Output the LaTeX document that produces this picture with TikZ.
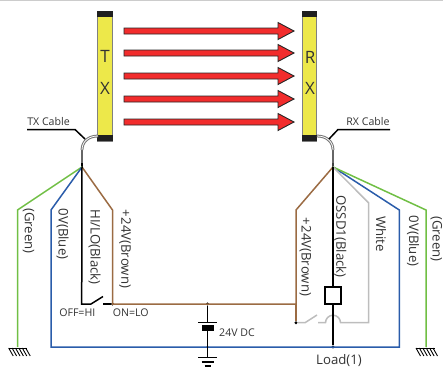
\documentclass[tikz,border=0pt]{standalone}
\usepackage{fontspec}
\setmainfont{Open Sans}
\usepackage{xcolor}

\definecolor{curtain}{HTML}{EDE84A}
\definecolor{beamred}{HTML}{F22C2C}
\definecolor{wgreen}{HTML}{70BF44}
\definecolor{wblue}{HTML}{2A5CAA}
\definecolor{wbrown}{HTML}{9B6B43}
\definecolor{wwhite}{HTML}{BDBDBD}
\definecolor{txt}{HTML}{333333}

\begin{document}
\begin{tikzpicture}[x=1pt, y=-1pt,
    bar/.style={draw=black!50, fill=curtain, line width=1pt, minimum width=14.5pt, minimum height=130pt, inner sep=0pt},
    endcap/.style={fill=black!88, minimum width=15.5pt, minimum height=6pt, inner sep=0pt},
    beam/.style={draw=black!85, fill=beamred, line width=0.9pt, line join=miter},
    letter/.style={font=\fontsize{17}{17}\selectfont, text=txt, inner sep=0pt},
    small/.style={font=\fontsize{10.6}{11}\selectfont, text=txt, inner sep=0pt},
    wirelabel/.style={font=\fontsize{13.2}{14}\selectfont, text=txt, rotate=-90, inner sep=0pt},
    wire/.style={line width=1.5pt, line join=miter},
    cable/.style={draw=black!55, double=white, line width=1pt, double distance=0.8pt},
    dot/.style={circle, fill=black, minimum size=3.4pt, inner sep=0pt},
    coil/.style={draw=black, fill=white, line width=1.5pt, minimum width=16pt, minimum height=17pt, inner sep=0pt}]

    \useasboundingbox (0,0) rectangle (443,367);
    \draw[black!20, line width=1pt] (0,0.5) -- (443,0.5);

    % Draw curtains
    \node (tx) [bar] at (105,76) {};
    \node (rx) [bar] at (309.5,76) {};
    \node (txtop) [endcap] at (105,14) {};
    \node (txbot) [endcap] at (105,138) {};
    \node (rxtop) [endcap] at (309.5,14) {};
    \node (rxbot) [endcap] at (309.5,138) {};
    \node (t) [letter] at (105,56) {T};
    \node (x1) [letter] at (105,88) {X};
    \node (r) [letter] at (310,57) {R};
    \node (x2) [letter] at (310,88) {X};

    % Draw beams
    \foreach \y in {31,53,76,99,122}
        \draw[beam] (124,\y-3) -- (278,\y-3) -- (278,\y-8.5) -- (294,\y) -- (278,\y+8.5) -- (278,\y+3) -- (124,\y+3) -- cycle;

    % Points of the wiring
    \coordinate (txend) at (82,167);
    \coordinate (rxend) at (333,167);
    \coordinate (swleft) at (91,304);
    \coordinate (swblade) at (103,296.5);
    \coordinate (swright) at (103,304);
    \node (swdot) [dot] at (112.5,304) {};
    \node (batdot) [dot] at (207.5,304) {};
    \node (batlow) [dot, minimum size=2.5pt] at (207.5,347) {};
    \node (reldot) [dot] at (296,322.7) {};
    \node (loaddot) [dot] at (333,347) {};
    \node (relay) [coil] at (333,295.3) {};
    \coordinate (gndl) at (17.5,347);
    \coordinate (gndr) at (426,347);

    % Draw cables
    \draw[black!60, line width=2.8pt] (txend) -- (82,150);
    \draw[cable] (82,150) .. controls (82,142) and (88,136) .. (98,136);
    \draw[black!60, line width=2.8pt] (rxend) -- (333,150);
    \draw[cable] (333,150) .. controls (333,142) and (327,136) .. (317,136);
    \draw[black, line width=2.8pt] (82,163) -- (txend);
    \draw[black!75, line width=2.8pt] (333,163) -- (rxend);
    \draw[wire] (27,129.5) -- (75,129.5) -- (85,139);
    \draw[wire] (390,129.5) -- (338,129.5) -- (329,139);

    % Draw TX wires
    \draw[wire, wgreen] (txend) -- (17.5,210) -- (gndl);
    \draw[wire, wblue] (txend) -- (51,210) -- (51,347) -- (399.3,347) -- (399.3,210) -- (rxend);
    \draw[wire, wbrown] (txend) -- (112.5,210) -- (swdot.center) -- (296,304) -- (296,210) -- (rxend);
    \draw[wire, black] (txend) -- (81.7,304) -- (swleft) -- (swblade);
    \draw[wire, black] (swright) -- (swdot);

    % Draw RX wires
    \draw[wire, wgreen] (rxend) -- (426,210) -- (gndr);
    \draw[wire, wwhite] (rxend) -- (368.7,203) -- (368.7,322.7) -- (340.5,322.7)
        arc[start angle=0, end angle=-180, radius=7.5] -- (318,322.7);
    \draw[wire, wwhite] (reldot) -- (305,322.7) -- (317,315);
    \draw[wire, wbrown] (296,304) -- (reldot);
    \draw[wire, black] (rxend) -- (relay.north);
    \draw[wire, black] (relay.south) -- (loaddot);

    % Draw battery
    \draw[wire] (batdot) -- (207.5,322.5);
    \draw[wire] (198,322.5) -- (217,322.5);
    \fill (201.5,325.3) rectangle (214,330.7);
    \draw[wire] (207.5,330) -- (207.5,357.3);
    \draw[wire] (198,357.3) -- (217,357.3);
    \draw[wire] (201.5,362) -- (213.5,362);
    \draw[wire] (204.5,366) -- (210.5,366);

    % Draw grounds
    \draw[wire, line width=1pt] (8.7,348) -- (27,348);
    \foreach \d in {0,3.4,...,17}
        \draw[line width=0.9pt] (8.7+\d,348) -- (13.2+\d,356);
    \draw[wire, line width=1pt] (416,348) -- (435,348);
    \foreach \d in {0,3.4,...,17}
        \draw[line width=0.9pt] (416+\d,348) -- (420.5+\d,356);

    % Draw labels
    \node (txcable) [small] at (48.5,122) {TX Cable};
    \node (rxcable) [small] at (368,122) {RX Cable};
    \node (off) [small] at (77.3,313) {OFF=HI};
    \node (on) [small] at (130.7,313) {ON=LO};
    \node (dc) [small] at (237,333) {24V DC};
    \node (load) [font=\fontsize{13.2}{14}\selectfont, text=txt, inner sep=0pt] at (339,361) {Load(1)};
    \node (lgreen) [wirelabel] at (28.7,231) {(Green)};
    \node (lblue) [wirelabel] at (62.7,234) {0V(Blue)};
    \node (lblack) [wirelabel] at (94.7,247) {HI/LO(Black)};
    \node (lbrown) [wirelabel] at (125,249) {+24V(Brown)};
    \node (rbrown) [wirelabel] at (305.3,257) {+24V(Brown)};
    \node (rblack) [wirelabel] at (340.3,236.5) {OSSD1(Black)};
    \node (rwhite) [wirelabel] at (381,234) {White};
    \node (rblue) [wirelabel] at (413,241) {0V(Blue)};
    \node (rgreen) [wirelabel] at (436.3,239) {(Green)};

\end{tikzpicture}
\end{document}
